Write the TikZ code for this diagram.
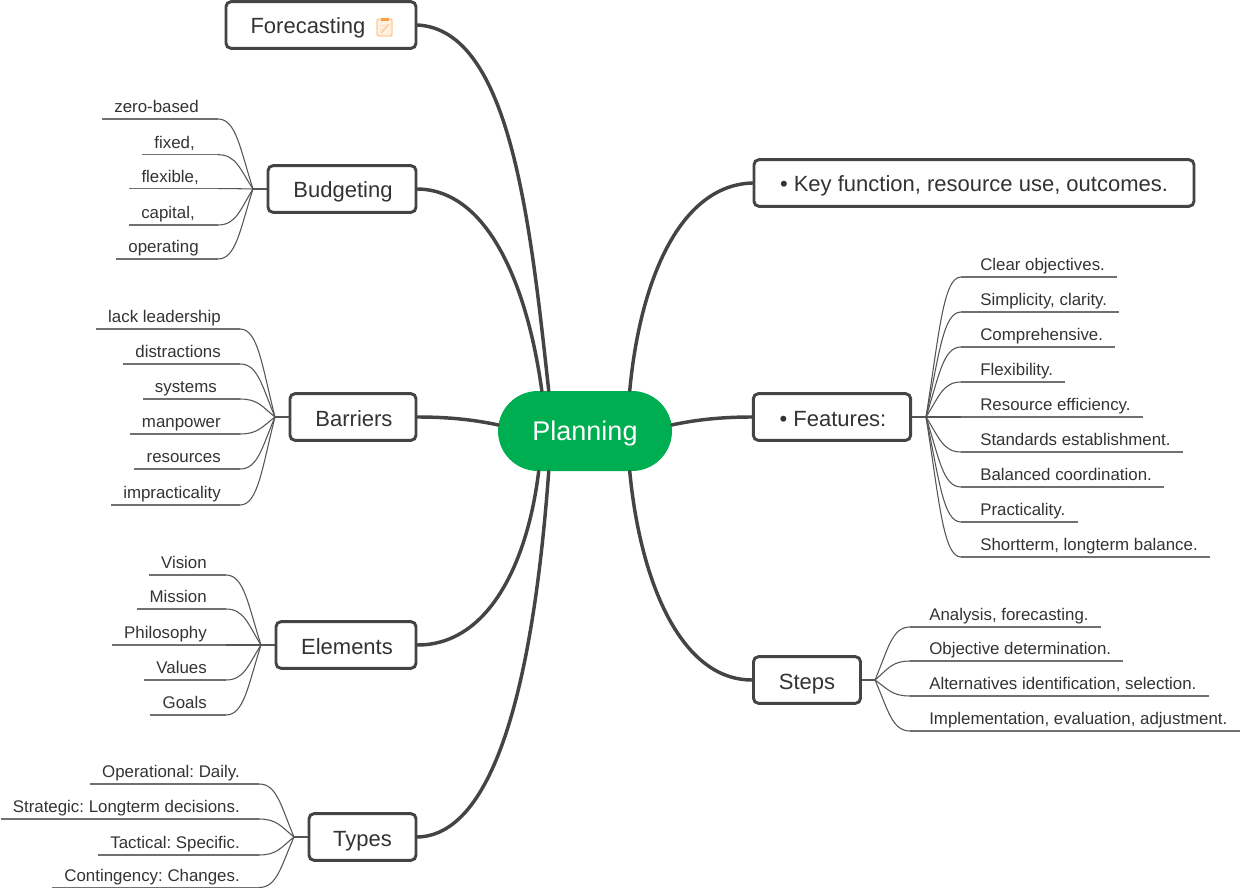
\documentclass[tikz,border=0pt]{standalone}
\usepackage{fontspec}
\setmainfont{Liberation Sans}
\usetikzlibrary{shapes.misc}
\definecolor{ink}{HTML}{333333}
\definecolor{edge}{HTML}{444444}
\definecolor{twig}{HTML}{555555}
\definecolor{rule}{HTML}{707070}
\definecolor{rootgreen}{HTML}{00AE52}
\tikzset{
  topic/.style={draw=edge,line width=2.2pt,rounded corners=3.75pt,fill=white,text=ink,
    font=\fontsize{16.5pt}{20pt}\selectfont,minimum height=35pt,inner sep=0pt,anchor=center,
    text height=14.5pt,text depth=1pt},
  rootnode/.style={rounded rectangle,fill=rootgreen,text=white,
    font=\fontsize{20.25pt}{24pt}\selectfont,minimum width=130.5pt,minimum height=60pt,inner sep=0pt,
    text height=16pt,text depth=1.5pt},
  branch/.style={draw=edge,line width=2.6pt,line cap=round},
  twigline/.style={draw=twig,line width=0.8pt},
  underline/.style={draw=rule,line width=1.05pt},
  leaf/.style={inner sep=0pt,text=ink,font=\fontsize{12.65pt}{15pt}\selectfont,text depth=4.6pt,text height=10pt},
}
% Leaves fanning out to the left of a hub point: #1 = hub x, #2 = hub y, #3 = name/text/line y
\newcommand\fanleft[3]{%
  \foreach \nm/\txt/\ly in {#3}{%
    \node[leaf,anchor=south east] (\nm) at (#1-35,\ly) {\hspace*{9pt}\txt\hspace*{14.25pt}};
    \pgfmathsetmacro\rise{0.58*(\ly-#2)}
    \draw[underline] (\nm.south east) -- (\nm.south west);
    \draw[twigline] (#1,#2) .. controls +(-13,\rise) and +(18,0) .. (\nm.south east);
  }}
% The same fan, opening to the right
\newcommand\fanright[3]{%
  \foreach \nm/\txt/\ly in {#3}{%
    \node[leaf,anchor=south west] (\nm) at (#1+35,\ly) {\hspace*{14.25pt}\txt\hspace*{9pt}};
    \pgfmathsetmacro\rise{0.58*(\ly-#2)}
    \draw[underline] (\nm.south west) -- (\nm.south east);
    \draw[twigline] (#1,#2) .. controls +(13,\rise) and +(-18,0) .. (\nm.south west);
  }}
\begin{document}
\frenchspacing
\begin{tikzpicture}[x=0.75pt,y=-0.75pt]
\useasboundingbox (0,0) rectangle (1240,888);

\node[rootnode] (root) at (585,431) {Planning};

% Main topics
\node[topic,minimum width=142.5pt] (forecast) at (321,25) {\hspace*{1.5pt}Forecasting\hspace*{21pt}};
\node[topic,minimum width=111pt] (budget) at (342,189) {\hspace*{1.5pt}Budgeting};
\node[topic,minimum width=94.5pt] (barriers) at (353,417) {\hspace*{1.5pt}Barriers};
\node[topic,minimum width=105pt] (elements) at (346,645) {\hspace*{1.5pt}Elements};
\node[topic,minimum width=80.25pt] (types) at (362.5,837) {Types};
\node[topic,minimum width=330pt] (keyfn) at (974,183) {• Key function, resource use, outcomes.};
\node[topic,minimum width=118pt] (features) at (832,417) {\hspace*{1.5pt}• Features:};
\node[topic,minimum width=80.25pt] (steps) at (807,680) {Steps};

% Branches from the root to the main topics
\draw[branch] (forecast.east) .. controls (510,30) and (530,220) .. (root.132);
\draw[branch] (budget.east) .. controls (490,190) and (528,290) .. (root.137.7);
\draw[branch] (barriers.east) .. controls (450,417) and (475,420) .. (root.176);
\draw[branch] (elements.east) .. controls (490,645) and (528,560) .. (root.221.6);
\draw[branch] (types.east) .. controls (500,835) and (535,660) .. (root.228);
\draw[branch] (keyfn.west) .. controls (680,185) and (640,280) .. (root.42);
\draw[branch] (features.west) .. controls (720,417) and (695,420) .. (root.4);
\draw[branch] (steps.west) .. controls (680,680) and (640,580) .. (root.-42);

% Small clipboard icon beside the first topic
\begin{scope}[shift={(377,19)}]
  \draw[draw=orange!40,fill=orange!12,line width=1.1pt,rounded corners=1.5pt] (0,0) rectangle (15,17);
  \fill[orange!75] (3.5,-0.5) rectangle (11.5,2.5);
  \draw[orange!40,line width=1.1pt] (4,14) -- (12,5);
  \draw[orange!25,line width=0.7pt] (3,6) -- (8,6) (3,10) -- (6,10);
\end{scope}

% Leaves
\fanleft{253}{189}{zb/zero-based/119, fx/{fixed,\hspace*{3pt}}/154.7, fl/{flexible,}/188.6, cp/{capital,\hspace*{3pt}}/225, op/operating/259}
\draw[twigline] (budget.west) -- (253,189);
\fanleft{275}{417}{ll/lack leadership/329, di/distractions/364, sy/{systems\hspace*{3pt}}/399, mp/manpower/434, re/resources/469, im/impracticality/505}
\draw[twigline] (barriers.west) -- (275,417);
\fanleft{261}{645}{vi/Vision/575, mi/Mission/609, ph/Philosophy/645, va/Values/680, go/Goals/715}
\draw[twigline] (elements.west) -- (261,645);
\fanleft{294}{837}{ot/Operational: Daily./784, st/Strategic: Longterm decisions./819, ta/Tactical: Specific./855, ct/Contingency: Changes./887.5}
\draw[twigline] (types.west) -- (294,837);
\fanright{926}{417}{f1/Clear objectives./277, f2/{Simplicity, clarity.}/312, f3/Comprehensive./347, f4/Flexibility./382, f5/Resource efficiency./417, f6/Standards establishment./452, f7/Balanced coordination./487, f8/Practicality./522, f9/{Shortterm, longterm balance.}/557}
\draw[twigline] (features.east) -- (926,417);
\fanright{875}{680}{s1/{Analysis, forecasting.}/627, s2/Objective determination./661, s3/{Alternatives identification, selection.}/696, s4/{Implementation, evaluation, adjustment.}/731}
\draw[twigline] (steps.east) -- (875,680);
\end{tikzpicture}
\end{document}
